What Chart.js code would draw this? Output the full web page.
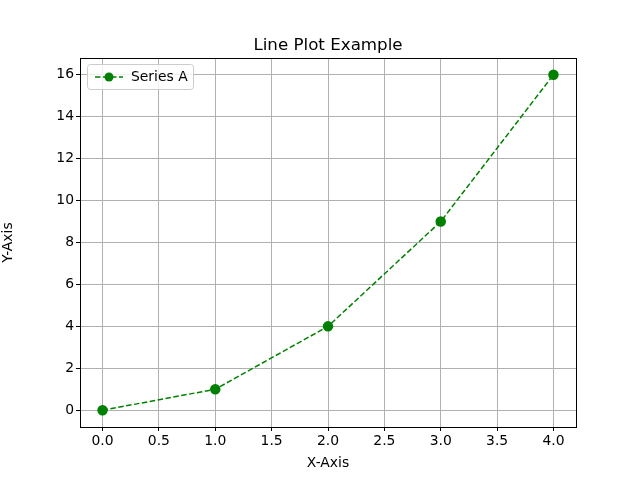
<!DOCTYPE html>
<html><head><meta charset="utf-8">
<script src="https://cdn.jsdelivr.net/npm/chart.js@4"></script>
<style>body{margin:0;background:#fff}#w{width:640px;height:480px}</style>
</head><body><div id="w"><canvas id="c" width="640" height="480"></canvas></div>
<script>
const xValues = [0, 1, 2, 3, 4];
const yValues = [0, 1, 4, 9, 16];
const xTicks = [0, 0.5, 1, 1.5, 2, 2.5, 3, 3.5, 4];
const yTicks = [0, 2, 4, 6, 8, 10, 12, 14, 16];
const seriesName = 'Series A';
const FONT = 'DejaVu Sans';
const green = '#008000';

const frame = {
  id: 'frame',
  afterDraw(chart) {
    const {ctx, chartArea: a} = chart;
    ctx.save();
    ctx.strokeStyle = '#000'; ctx.lineWidth = 1;
    ctx.strokeRect(Math.round(a.left)+0.5, Math.round(a.top)+0.5, Math.round(a.right-a.left), Math.round(a.bottom-a.top));
    ctx.font = '16.7px ' + FONT; ctx.fillStyle = '#000'; ctx.textAlign = 'center'; ctx.textBaseline = 'alphabetic';
    ctx.fillText('Line Plot Example', (a.left + a.right) / 2, 50);
    // legend
    const lx = a.left + 7, ly = a.top + 6;
    ctx.fillStyle = 'rgba(255,255,255,0.8)'; ctx.strokeStyle = '#cccccc';
    ctx.beginPath(); ctx.roundRect(lx+0.5, ly+0.5, 106, 25, 3); ctx.fill(); ctx.stroke();
    ctx.strokeStyle = green; ctx.lineWidth = 1.5; ctx.setLineDash([5.5, 2.5]);
    ctx.beginPath(); ctx.moveTo(lx + 8, ly + 13); ctx.lineTo(lx + 36, ly + 13); ctx.stroke();
    ctx.setLineDash([]);
    ctx.fillStyle = green; ctx.beginPath(); ctx.arc(lx + 22, ly + 13, 4.5, 0, Math.PI * 2); ctx.fill();
    ctx.fillStyle = '#000'; ctx.font = '13.9px ' + FONT; ctx.textAlign = 'left'; ctx.textBaseline = 'middle';
    ctx.fillText(seriesName, lx + 44, ly + 13);
    ctx.restore();
  }
};

new Chart(document.getElementById('c'), {
  type: 'line',
  data: { datasets: [{
    label: seriesName,
    data: xValues.map((x, i) => ({x, y: yValues[i]})),
    borderColor: green, backgroundColor: green, borderWidth: 1.5,
    borderDash: [5.5, 2.5], pointRadius: 4.5, pointHoverRadius: 4.5, tension: 0
  }]},
  options: {
    responsive: false, animation: false, devicePixelRatio: 1,
    layout: { padding: { left: 0, right: 64, top: 58, bottom: 0 } },
    plugins: { legend: { display: false }, title: { display: false }, tooltip: { enabled: false } },
    scales: {
      x: {
        type: 'linear', min: -0.2, max: 4.2,
        afterBuildTicks: s => { s.ticks = xTicks.map(v => ({value: v})); },
        afterFit: s => { s.height = 53; },
        ticks: { color: '#000', font: { family: FONT, size: 13.9 }, padding: 2, maxRotation: 0,
                 callback: v => v.toFixed(1) },
        grid: { color: '#b0b0b0', tickColor: '#000', tickLength: 4, lineWidth: 1 },
        border: { color: '#000' },
        title: { display: true, text: 'X-Axis', color: '#000', font: { family: FONT, size: 13.9 }, padding: { top: 0, bottom: 8 } }
      },
      y: {
        type: 'linear', min: -0.8, max: 16.8,
        afterBuildTicks: s => { s.ticks = yTicks.map(v => ({value: v})); },
        afterFit: s => { s.width = 80; },
        ticks: { color: '#000', font: { family: FONT, size: 13.9 }, padding: 2 },
        grid: { color: '#b0b0b0', tickColor: '#000', tickLength: 4, lineWidth: 1 },
        border: { color: '#000' },
        title: { display: true, text: 'Y-Axis', color: '#000', font: { family: FONT, size: 13.9 }, padding: { top: 0, bottom: 0 } }
      }
    }
  },
  plugins: [frame]
});
</script></body></html>
